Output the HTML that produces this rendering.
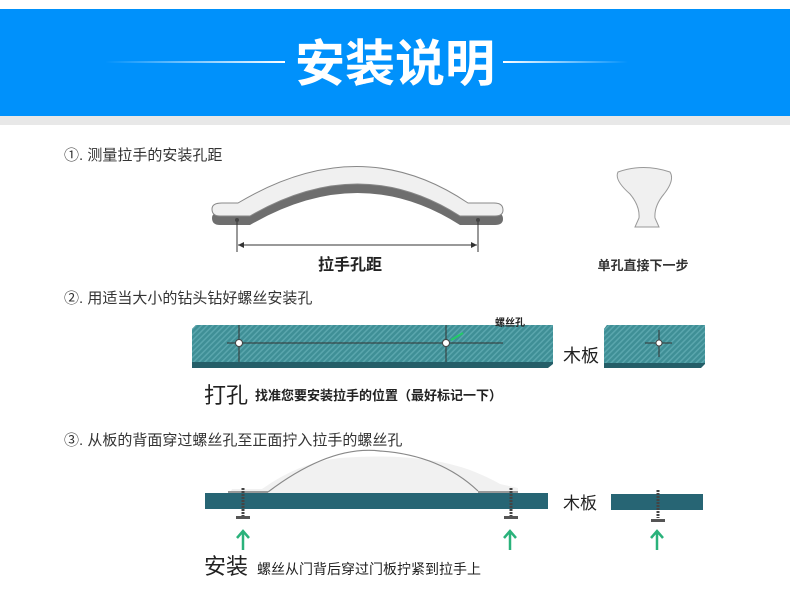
<!DOCTYPE html>
<html><head><meta charset="utf-8"><style>
html,body{margin:0;padding:0;background:#fff;}
svg{display:block;font-family:"Liberation Sans","Noto Sans CJK SC",sans-serif;}
</style></head><body>
<svg width="790" height="616" viewBox="0 0 790 616" xmlns="http://www.w3.org/2000/svg">
<defs>
<linearGradient id="gl" x1="0" x2="1"><stop offset="0" stop-color="#fff" stop-opacity="0"/><stop offset="1" stop-color="#fff"/></linearGradient>
<linearGradient id="gr" x1="0" x2="1"><stop offset="0" stop-color="#fff"/><stop offset="1" stop-color="#fff" stop-opacity="0"/></linearGradient>
<pattern id="hatch" width="4" height="4" patternUnits="userSpaceOnUse" patternTransform="rotate(45)"><rect width="4" height="4" fill="#3f8f96"/><rect width="1.5" height="4" fill="#5aa6ad"/></pattern>
</defs>
<rect x="0" y="9" width="790" height="107" fill="#0091fb"/>
<rect x="0" y="116" width="790" height="9" fill="#e8e8e8"/>
<rect x="105" y="61" width="180" height="2" fill="url(#gl)"/>
<rect x="503" y="61" width="125" height="2" fill="url(#gr)"/>
<text x="395" y="81" text-anchor="middle" font-size="50" font-weight="bold" fill="#fff" font-family="'Noto Sans CJK SC',sans-serif">安装说明</text>

<text x="64" y="160" font-size="15" fill="#333">①. 测量拉手的安装孔距</text>
<!-- handle -->
<g transform="translate(0,9)">
<path d="M222,203 L238,203 Q360,130 468,203 L494,203 Q503,203 503,210 Q503,216 495,216 L460,216 Q360,152 250,216 L220,216 Q212,216 212,209 Q212,203 222,203 Z" fill="#6e6e6e"/>
</g>
<path d="M222,203 L238,203 Q360,130 468,203 L494,203 Q503,203 503,210 Q503,216 495,216 L460,216 Q360,152 250,216 L220,216 Q212,216 212,209 Q212,203 222,203 Z" fill="#f0f0f0" stroke="#888" stroke-width="1"/>
<circle cx="237" cy="220" r="2" fill="#444"/><circle cx="478" cy="220" r="2" fill="#444"/>
<line x1="237" y1="222" x2="237" y2="252" stroke="#333"/>
<line x1="478" y1="222" x2="478" y2="252" stroke="#333"/>
<line x1="238" y1="245" x2="477" y2="245" stroke="#333"/>
<path d="M238,245 l6,-3 v6 z M477,245 l-6,-3 v6 z" fill="#333"/>
<text x="350" y="270" text-anchor="middle" font-size="16" font-weight="bold" fill="#222">拉手孔距</text>
<!-- knob -->
<path d="M618,172 Q643,163 670,172 Q675,180 664,194 Q654,206 655,218 L659,227 L635,227 L639,218 Q640,206 630,194 Q614,180 618,172 Z" fill="#f0f0f0" stroke="#999"/>
<text x="643" y="270" text-anchor="middle" font-size="13" font-weight="bold" fill="#333">单孔直接下一步</text>

<text x="64" y="303" font-size="15" fill="#333">②. 用适当大小的钻头钻好螺丝安装孔</text>
<!-- board 1 -->
<polygon points="196,325 553,325 553,364 548,368 192,368 192,329" fill="#245e68"/>
<polygon points="196,325 553,325 553,362 192,362 192,329" fill="url(#hatch)"/>
<line x1="227" y1="343" x2="503" y2="343" stroke="#333"/>
<line x1="239" y1="325" x2="239" y2="362" stroke="#333"/>
<line x1="446" y1="325" x2="446" y2="362" stroke="#333"/>
<circle cx="239" cy="343" r="3.5" fill="#fff" stroke="#444"/>
<circle cx="446" cy="343" r="3.5" fill="#fff" stroke="#444"/>
<line x1="451" y1="340" x2="463" y2="333" stroke="#2c6" stroke-width="2"/>
<text x="495" y="326" font-size="10" font-weight="bold" fill="#222">螺丝孔</text>
<text x="563" y="362" font-size="18" fill="#222">木板</text>
<!-- board 2 -->
<polygon points="607,325 705,325 705,364 701,368 604,368 604,329" fill="#245e68"/>
<polygon points="607,325 705,325 705,363 604,363 604,329" fill="url(#hatch)"/>
<line x1="645" y1="343" x2="672" y2="343" stroke="#333"/>
<line x1="659" y1="330" x2="659" y2="357" stroke="#333"/>
<circle cx="659" cy="343" r="3" fill="#fff" stroke="#444"/>
<text x="204" y="403" font-size="22" fill="#222">打孔</text>
<text x="255" y="400" font-size="13" font-weight="bold" fill="#222">找准您要安装拉手的位置（最好标记一下）</text>

<text x="64" y="445" font-size="15" fill="#333">③. 从板的背面穿过螺丝孔至正面拧入拉手的螺丝孔</text>
<!-- handle arc -->
<path d="M232,489 L262,489 Q300,462 340,458 Q420,452 470,470 Q490,478 500,484 L518,488 L518,493 L230,493 Z" fill="#f1f1f1"/>
<path d="M268,492 Q330,445 380,451 Q440,455 478,491" fill="none" stroke="#888" stroke-width="1.2"/>
<rect x="228" y="491" width="40" height="2" fill="#999"/>
<rect x="478" y="491" width="40" height="2" fill="#999"/>
<rect x="205" y="493" width="343" height="16" fill="#276574"/>
<rect x="611" y="494" width="92" height="16" fill="#276574"/>
<text x="563" y="509" font-size="17" fill="#222">木板</text>
<g stroke="#444" stroke-width="3" stroke-dasharray="2 1">
<line x1="243" y1="488" x2="243" y2="516"/><line x1="511" y1="488" x2="511" y2="516"/><line x1="658" y1="490" x2="658" y2="518"/>
</g>
<g fill="#555"><rect x="236" y="516" width="14" height="3"/><rect x="504" y="516" width="14" height="3"/><rect x="651" y="519" width="14" height="3"/></g>
<g stroke="#2ab27b" stroke-width="2.5" fill="none">
<path d="M243,550 V532 M237,538 L243,531 L249,538"/>
<path d="M510,550 V532 M504,538 L510,531 L516,538"/>
<path d="M657,550 V532 M651,538 L657,531 L663,538"/>
</g>
<text x="204" y="574" font-size="22" fill="#222">安装</text>
<text x="257" y="574" font-size="14" fill="#222">螺丝从门背后穿过门板拧紧到拉手上</text>
</svg>
</body></html>
